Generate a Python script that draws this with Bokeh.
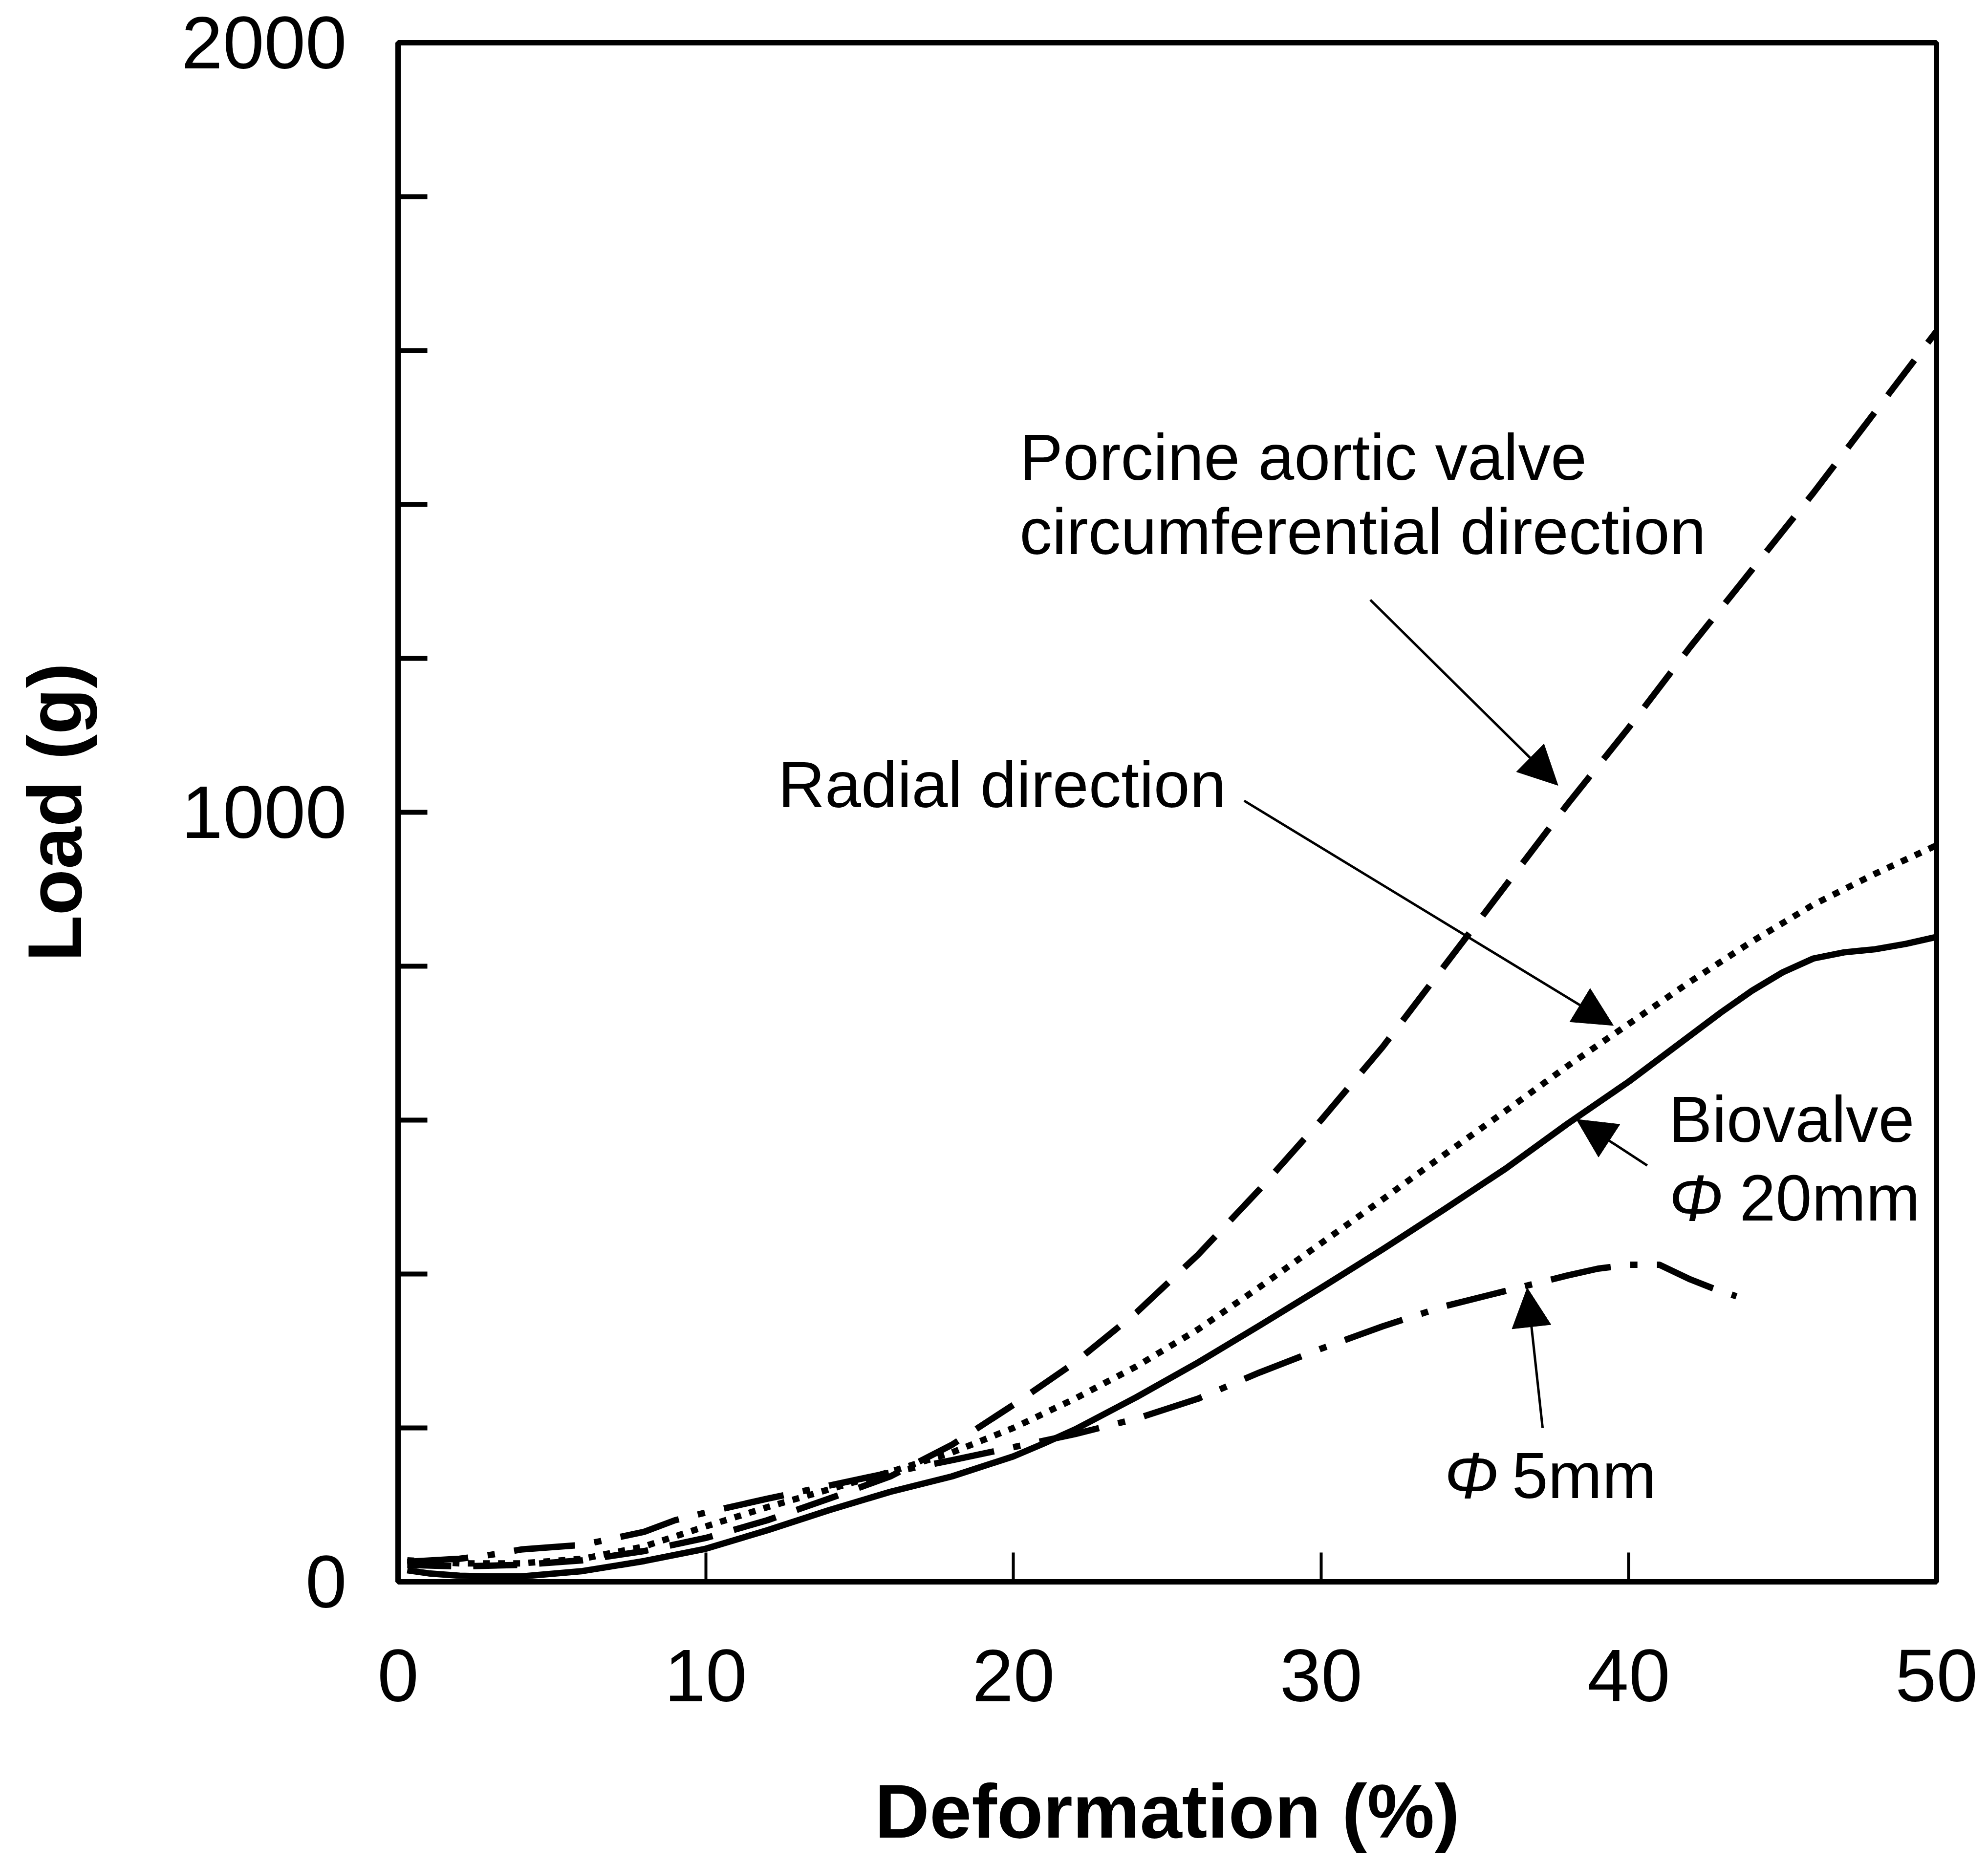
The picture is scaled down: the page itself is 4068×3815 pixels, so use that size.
from bokeh.plotting import figure
from bokeh.models import Range1d, FixedTicker, Arrow, NormalHead, Label
from bokeh.embed import file_html
from bokeh.resources import INLINE

# ---------------- data ----------------
porcine_x = [0.3, 2, 4, 6, 8, 10, 12, 14, 16, 18, 20, 22, 24, 26, 28, 30, 32, 34, 36, 38, 40, 42, 44, 46, 48, 50]
porcine_y = [22, 20, 22, 28, 40, 57, 80, 108, 137, 178, 230, 285, 350, 425, 510, 600, 695, 800, 905, 1010, 1110, 1215, 1315, 1415, 1520, 1625]

radial_x = [0.3, 2, 4, 6, 8, 10, 12, 14, 16, 18, 20, 22, 24, 26, 28, 30, 32, 34, 36, 38, 40, 42, 44, 46, 48, 50]
radial_y = [28, 24, 24, 30, 46, 72, 97, 120, 143, 168, 200, 238, 280, 328, 383, 440, 497, 555, 612, 670, 725, 780, 832, 880, 920, 957]

bio20_x = [0.3, 1, 2, 3, 4, 6, 8, 10, 12, 14, 16, 18, 20, 21, 22, 24, 26, 28, 30, 32, 34, 36, 38, 40, 42, 43, 44, 45, 46, 47, 48, 49, 50]
bio20_y = [15, 11, 8, 7, 7, 14, 27, 43, 67, 93, 117, 137, 163, 180, 198, 240, 285, 333, 382, 432, 484, 537, 595, 650, 710, 740, 768, 792, 810, 818, 822, 829, 838]

bio5_x = [0.3, 2, 3, 4, 6, 8, 9, 10, 12, 14, 16, 18, 20, 22, 24, 26, 28, 30, 32, 34, 36, 37, 38, 39, 40, 41, 42, 42.7, 43.5]
bio5_y = [26, 30, 35, 42, 48, 65, 80, 90, 108, 125, 142, 158, 175, 192, 212, 238, 272, 303, 332, 358, 378, 388, 398, 407, 412, 412, 393, 382, 371]

x_ticks = [0, 10, 20, 30, 40, 50]
y_ticks = [0, 200, 400, 600, 800, 1000, 1200, 1400, 1600, 1800, 2000]
y_tick_labels = {0: "0", 1000: "1000", 2000: "2000"}

FONT = "Liberation Sans"

p = figure(width=4060, height=3810,
           x_range=Range1d(0, 50), y_range=Range1d(0, 2000),
           output_backend="svg", toolbar_location=None,
           min_border_left=814, min_border_right=98,
           min_border_top=87, min_border_bottom=573)

p.background_fill_color = "white"
p.border_fill_color = "white"
p.xgrid.visible = False
p.ygrid.visible = False
p.outline_line_color = "black"
p.outline_line_width = 11
p.outline_line_alpha = 1.0

# X axis
p.xaxis.ticker = FixedTicker(ticks=x_ticks)
p.xaxis.axis_line_width = 11
p.xaxis.major_tick_in = 60
p.xaxis.major_tick_out = 0
p.xaxis.major_tick_line_width = 6
p.xaxis.minor_tick_line_color = None
p.xaxis.major_label_text_font = FONT
p.xaxis.major_label_text_font_size = "152px"
p.xaxis.major_label_text_color = "black"
p.xaxis.major_label_standoff = 139
p.xaxis.axis_label = "Deformation (%)"
p.xaxis.axis_label_text_font = FONT
p.xaxis.axis_label_text_font_style = "bold"
p.xaxis.axis_label_text_font_size = "155px"
p.xaxis.axis_label_text_color = "black"
p.xaxis.axis_label_standoff = 136

# Y axis
p.yaxis.ticker = FixedTicker(ticks=y_ticks)
p.yaxis.major_label_overrides = {t: y_tick_labels.get(t, "") for t in y_ticks}
p.yaxis.axis_line_width = 11
p.yaxis.major_tick_in = 60
p.yaxis.major_tick_out = 0
p.yaxis.major_tick_line_width = 10
p.yaxis.minor_tick_line_color = None
p.yaxis.major_label_text_font = FONT
p.yaxis.major_label_text_font_size = "152px"
p.yaxis.major_label_text_color = "black"
p.yaxis.major_label_standoff = 105
p.yaxis.axis_label = "Load (g)"
p.yaxis.axis_label_text_font = FONT
p.yaxis.axis_label_text_font_style = "bold"
p.yaxis.axis_label_text_font_size = "155px"
p.yaxis.axis_label_text_color = "black"
p.yaxis.axis_label_standoff = 169

# Curves
p.line(porcine_x, porcine_y, line_color="black", line_width=13, line_dash="90 45")
p.line(radial_x, radial_y, line_color="black", line_width=13, line_dash="14 17")
p.line(bio20_x, bio20_y, line_color="black", line_width=13, line_join="round")
p.line(bio5_x, bio5_y, line_color="black", line_width=13, line_dash="125 40 15 40")

# Arrows
def add_arrow(x0, y0, x1, y1):
    p.add_layout(Arrow(end=NormalHead(size=80, fill_color="black", line_color="black", line_width=1),
                       x_start=x0, y_start=y0, x_end=x1, y_end=y1,
                       line_color="black", line_width=5))

add_arrow(31.6, 1276, 37.7, 1035)
add_arrow(27.5, 1015, 39.5, 723)
add_arrow(40.6, 541, 38.3, 601)
add_arrow(37.2, 200, 36.7, 382)

# Annotation texts
def add_text(x, y, txt, style="normal"):
    p.add_layout(Label(x=x, y=y, text=txt, text_font=FONT, text_font_size="133px",
                       text_font_style=style, text_color="black",
                       text_baseline="alphabetic", text_align="left"))

add_text(20.2, 1461, "Porcine aortic valve")
add_text(20.2, 1365, "circumferential direction")
add_text(12.35, 1036, "Radial direction")
add_text(41.3, 601, "Biovalve")
add_text(41.3, 499, "Φ", "italic")
add_text(43.6, 499, "20mm")
add_text(34.0, 138, "Φ", "italic")
add_text(36.2, 138, "5mm")

open("out.html", "w").write(file_html(p, INLINE))
